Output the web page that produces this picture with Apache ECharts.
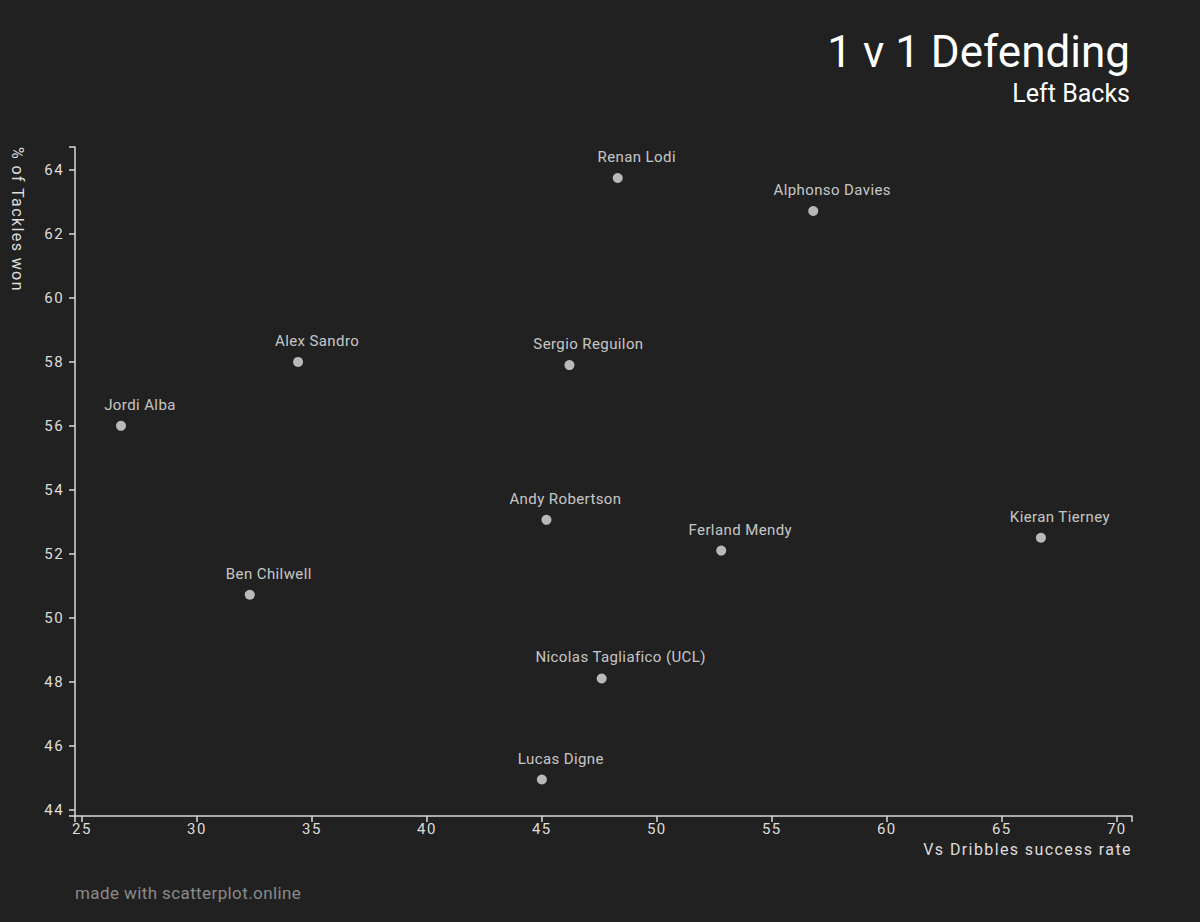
<!DOCTYPE html>
<html>
<head>
<meta charset="utf-8">
<script src="https://cdn.jsdelivr.net/npm/echarts@6/dist/echarts.min.js"></script>
<style>
html,body{margin:0;padding:0;background:#212121;}
#chart{width:1200px;height:922px;}
</style>
</head>
<body>
<div id="chart"></div>
<script>
const players = ["Renan Lodi","Alphonso Davies","Alex Sandro","Sergio Reguilon","Jordi Alba","Andy Robertson","Ferland Mendy","Kieran Tierney","Ben Chilwell","Nicolas Tagliafico (UCL)","Lucas Digne"];
const dribblesSuccess = [48.3, 56.8, 34.4, 46.2, 26.7, 45.2, 52.8, 66.7, 32.3, 47.6, 45.0];
const tacklesWon = [63.75, 62.72, 58.0, 57.9, 56.0, 53.06, 52.1, 52.5, 50.72, 48.1, 44.94];
const xTicks = [25, 30, 35, 40, 45, 50, 55, 60, 65, 70];
const yTicks = [44, 46, 48, 50, 52, 54, 56, 58, 60, 62, 64];
const titleText = '1 v 1 Defending';
const subtitleText = 'Left Backs';
const xName = 'Vs Dribbles success rate';
const yName = '% of Tackles won';
const footerText = 'made with scatterplot.online';

const X_MIN = 24.7, X_MAX = 70.66, Y_MIN = 43.8, Y_MAX = 64.72;
const data = players.map((p, i) => [dribblesSuccess[i], tacklesWon[i], p]);

const chart = echarts.init(document.getElementById('chart'), null, {renderer: 'svg'});
const FONT = 'Roboto';
chart.setOption({
  backgroundColor: '#212121',
  animation: false,
  grid: {left: 75, right: 68, top: 147, bottom: 106},
  xAxis: {
    type: 'value', min: X_MIN, max: X_MAX,
    splitLine: {show: false},
    axisLine: {show: true, lineStyle: {color: '#d8d8d8', width: 1.5}},
    axisTick: {show: true, length: 6, lineStyle: {color: '#d8d8d8', width: 1.5}, customValues: [X_MIN].concat(xTicks, [X_MAX])},
    axisLabel: {color: '#dddddd', fontFamily: FONT, fontSize: 15, margin: 5, customValues: xTicks}
  },
  yAxis: {
    type: 'value', min: Y_MIN, max: Y_MAX,
    splitLine: {show: false},
    axisLine: {show: true, lineStyle: {color: '#d8d8d8', width: 1.5}},
    axisTick: {show: true, length: 6, lineStyle: {color: '#d8d8d8', width: 1.5}, customValues: [Y_MIN].concat(yTicks, [Y_MAX])},
    axisLabel: {color: '#dddddd', fontFamily: FONT, fontSize: 15, margin: 11, customValues: yTicks}
  },
  series: [{
    type: 'scatter',
    data: data,
    symbolSize: 10,
    itemStyle: {color: '#e0e0e0'},
    label: {
      show: true,
      position: 'inside',
      offset: [19, -21],
      formatter: p => p.data[2],
      color: '#f2f2f2',
      fontFamily: FONT,
      fontSize: 15
    }
  }],
  graphic: [
    {type: 'text', right: 70, top: 30, style: {text: titleText, fill: '#ffffff', font: '44px Roboto', textAlign: 'right'}},
    {type: 'text', right: 70, top: 81, style: {text: subtitleText, fill: '#ffffff', font: '25px Roboto', textAlign: 'right'}},
    {type: 'text', right: 68, top: 841, style: {text: xName, fill: '#dddddd', font: '16px Roboto', textAlign: 'right'}},
    {type: 'text', x: 17, y: 147, rotation: -Math.PI / 2, style: {text: yName, fill: '#dddddd', font: '16px Roboto', textAlign: 'left', textVerticalAlign: 'middle'}},
    {type: 'text', left: 75, top: 884, style: {text: footerText, fill: '#8a8a8a', font: '17px Roboto'}}
  ]
});

// letter spacing like the reference (axis texts are widely tracked)
const wide = new Set(xTicks.map(String).concat(yTicks.map(String), [xName, yName]));
const narrow = new Set(players.concat([footerText]));
document.querySelectorAll('#chart svg text').forEach(t => {
  const s = t.textContent;
  if (wide.has(s)) t.style.letterSpacing = '1.4px';
  else if (narrow.has(s)) t.style.letterSpacing = '0.4px';
});
</script>
</body>
</html>
